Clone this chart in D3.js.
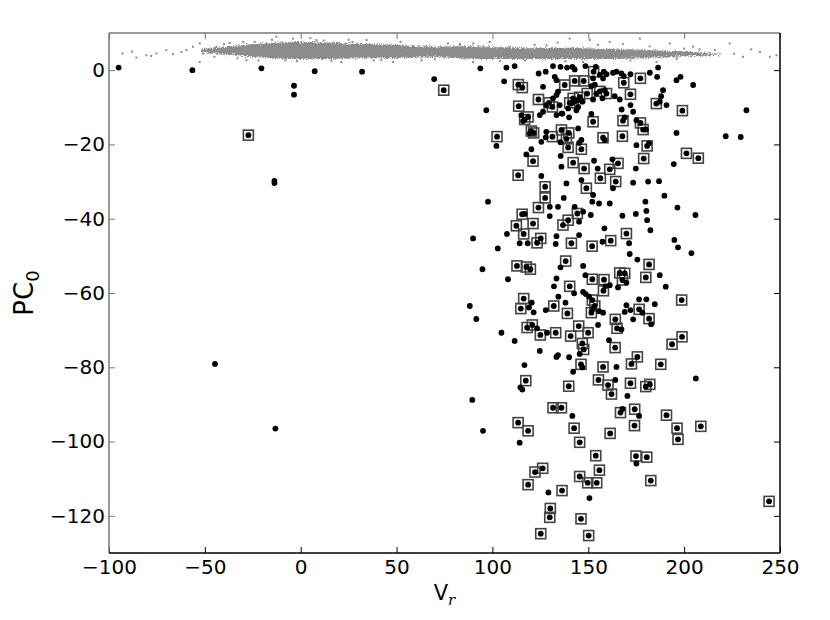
<!DOCTYPE html>
<html>
<head>
<meta charset="utf-8">
<script src="https://cdn.jsdelivr.net/npm/d3@7"></script>
<style>
body { margin: 0; background: #fff; }
text { font-family: "DejaVu Sans", sans-serif; }
</style>
</head>
<body>
<div id="chart"></div>
<script>
var width = 830,
    height = 620;

var margin = {top: 33, right: 50, bottom: 67, left: 109};

var xTicks = [-100, -50, 0, 50, 100, 150, 200, 250];
var yTicks = [0, -20, -40, -60, -80, -100, -120];

// dense gray band near PC0 ~ 5 (lower / upper edge per V_r bin)
var bandX    = [-52, -40, -30, -20, -10, 0, 10, 20, 30, 40, 50, 60, 70, 80, 90, 100, 110, 120, 130, 140, 150, 160, 170, 180, 190, 200, 210, 220];
var bandLow  = [4.8, 4.3, 3.8, 3.4, 3.1, 3.0, 3.0, 3.1, 3.2, 3.2, 3.3, 3.4, 3.5, 3.3, 3.1, 3.0, 3.0, 3.0, 3.0, 3.0, 3.0, 3.0, 3.1, 3.3, 3.5, 3.7, 3.9, 4.2];
var bandHigh = [5.6, 6.2, 6.8, 7.2, 7.5, 7.6, 7.5, 7.3, 7.1, 7.0, 6.8, 6.5, 6.3, 6.4, 6.4, 6.2, 6.0, 5.9, 6.0, 6.0, 5.8, 5.7, 5.6, 5.4, 5.2, 5.0, 4.7, 4.4];

// sparse gray points around the band
var grayPoints = [
    [-93, 4.5], [-85.7, 3.4], [-80.5, 4.0], [-75.3, 4.5], [-70.1, 5.4], [-66.6, 4.3], [-62.2, 4.9],
    [-59.6, 5.4], [-56.2, 6.3], [-52.7, 7.2], [-51, 4.5], [-52.7, 2.2], [-44, 6.3], [-37, 7.3],
    [-28.3, 2.7], [-12.7, 9.0], [-4, 8.5], [8.2, 8.1], [21.2, 2.2], [34.3, 8.1], [48.2, 2.2],
    [58.6, 5.4], [65.6, 6.3], [76.8, 7.2], [89.9, 2.2], [98.6, 7.6], [109, 6.3], [128.2, 6.7],
    [140.3, 8.5], [150.8, 8.1], [147.3, 2.2], [161.2, 7.6], [176.9, 8.5], [185.6, 2.2], [192.5, 7.2],
    [204.7, 6.3], [213.4, 4.0], [223.8, 7.2], [230.7, 3.6], [239.5, 4.9], [244.7, 3.6], [248.2, 4.0],
    [-88, 5.0], [-78, 3.8], [-47, 5.2], [-33, 3.2], [-24, 7.6], [-8, 2.6], [12, 8.0], [27, 7.6],
    [42, 2.8], [63, 2.6], [83, 7.0], [117, 2.6], [134, 7.4], [168, 7.0], [196, 3.0], [208, 5.6],
    [-45, 3.6], [-40, 7.0], [-30, 7.6], [-22, 2.6], [-15, 8.2], [-2, 2.4], [5, 8.6], [16, 2.5],
    [25, 8.2], [38, 2.6], [52, 7.6], [70, 2.9], [90, 7.2], [104, 2.5], [122, 6.8], [138, 2.4],
    [155, 6.8], [172, 2.6], [182, 6.4], [200, 5.8], [216, 5.4], [226, 4.4], [235, 5.6]
];

// plain black points [V_r, PC0]
var plainPoints = [
    [-95.0, 0.7], [-56.5, 0], [-20.5, 0.5], [7.3, -0.3], [32, -0.4], [69.6, -2.4], [-3.5, -4.2], [-3.5, -6.6],
    [-13.7, -29.8], [-13.7, -30.4], [-44.7, -79.1], [-13.2, -96.5], [232.5, -10.8], [221.7, -17.8], [229.5, -18.0],
    [93.7, 0.5], [107.3, 0.7], [111.6, 1.1], [124.1, -0.9], [127.8, -0.4], [131.6, 1.1], [135.5, 0.9], [138.9, 0.7],
    [141.7, 0.9], [142.9, 0.2], [148.5, 1.1], [153.9, 0.9], [158.1, -0.4], [159.5, -1.1], [162.9, -0.7], [164.7, -0.4],
    [167.3, -0.9], [168.5, -1.6], [172.0, -1.1], [182.1, -0.7], [186.4, 0.7], [185.9, -1.8], [196.0, -2.7], [198.1, -1.8],
    [204.7, -4.0], [106.1, -3.0], [126.4, -4.5], [132.5, -1.8], [133.4, -2.7], [152.5, -2.2], [151.6, -4.3], [158.6, -5.4],
    [163.8, -7.0], [154.2, -6.3], [143.8, -8.1], [145.5, -7.9], [142.1, -8.5], [141.2, -9.0], [134.2, -5.8], [133.4, -6.7],
    [131.6, -7.6], [188.0, -7.0], [189.0, -5.4], [128.1, -9.4], [135.1, -9.4], [136.0, -11.7], [139.5, -10.3], [143.8, -10.8],
    [144.7, -9.9], [152.5, -7.9], [157.4, -7.6], [166.4, -7.9], [172.0, -9.4], [167.4, -10.6], [173.4, -11.2], [187.3, -8.5],
    [190.8, -9.4], [96.8, -10.8], [115.1, -12.1], [116.0, -13.7], [124.7, -12.1], [126.4, -11.2], [133.4, -12.1], [136.5, -11.7],
    [140.0, -12.7], [151.6, -11.8], [169.0, -12.7], [175.1, -13.5], [180.0, -16.0], [196.0, -16.9], [102.1, -20.4], [119.5, -17.0],
    [128.1, -16.6], [127.8, -18.1], [135.5, -19.4], [145.2, -19.6], [146.4, -18.8], [144.7, -15.7], [158.6, -18.8], [175.1, -20.2],
    [181.7, -19.7], [120.3, -21.3], [117.7, -22.7], [125.5, -19.3], [135.6, -23.1], [136.0, -26.0], [153.0, -24.4], [154.9, -26.5],
    [162.6, -24.0], [174.8, -26.5], [194.6, -25.3], [125.5, -28.5], [138.6, -30.5], [146.4, -29.6], [152.5, -33.6], [152.1, -35.4],
    [155.6, -35.9], [161.2, -35.9], [162.9, -31.8], [173.4, -30.3], [181.2, -30.0], [186.9, -29.9], [189.7, -33.8], [196.5, -37.0],
    [97.7, -35.4], [137.2, -34.4], [129.9, -36.8], [134.2, -36.8], [142.9, -36.8], [179.8, -35.4], [180.3, -37.9], [116.8, -38.7],
    [129.9, -39.3], [147.3, -38.1], [151.3, -39.0], [145.2, -40.8], [167.8, -39.2], [174.8, -38.7], [180.7, -40.4], [205.9, -39.0],
    [107.6, -44.1], [133.4, -44.7], [89.9, -45.3], [145.2, -44.4], [158.4, -42.6], [157.4, -46.2], [182.4, -43.1], [114.2, -46.6],
    [118.4, -46.6], [133.0, -46.8], [194.9, -45.7], [196.8, -47.7], [102.8, -48.0], [203.8, -49.3], [171.3, -46.6],
    [156.0, -1.3], [157.7, -2.2], [153.4, -3.9], [146.9, -8.5],
    [171.6, -49.5], [175.6, -51.0], [94.8, -53.6], [135.5, -53.1], [147.3, -52.7], [187.3, -55.2], [169.9, -57.2], [148.5, -55.2],
    [158.9, -58.2], [161.2, -57.9], [165.5, -58.5], [133.4, -56.1], [108.1, -56.3], [132.1, -58.2], [142.6, -60.1], [147.3, -59.7],
    [148.7, -60.3], [150.4, -61.0], [190.4, -58.3], [134.4, -61.0], [120.5, -62.6], [119.1, -63.9], [121.5, -65.2], [138.1, -62.6],
    [127.8, -64.6], [152.5, -64.2], [155.6, -64.9], [157.7, -65.3], [169.9, -63.3], [176.5, -61.7], [180.3, -61.7], [184.7, -63.0],
    [169.0, -65.1], [172.0, -64.6], [178.2, -65.3], [173.4, -67.1], [182.8, -68.4], [91.6, -67.0], [88.2, -63.5], [123.3, -69.5],
    [128.5, -70.7], [104.7, -70.7], [111.6, -72.9], [155.1, -68.6], [167.3, -69.8], [160.8, -72.7], [124.7, -75.6], [133.4, -77.2],
    [134.2, -76.7], [140.0, -77.3], [145.5, -76.4], [146.9, -80.0], [164.7, -79.9], [116.7, -79.4], [142.1, -81.2], [114.6, -85.4],
    [115.6, -86.0], [164.1, -83.4], [170.4, -87.7], [206.1, -83.0], [89.5, -88.8], [141.7, -93.1], [167.8, -91.2], [176.5, -93.1],
    [95.1, -97.1], [114.2, -100.3], [175.1, -105.9], [129.2, -113.7], [150.6, -115.2]
];

// black points drawn with a square frame round them
var boxedPoints = [
    [-27.3, -17.5], [74.6, -5.4], [244.3, -116.1],
    [152.8, -0.4], [177.2, -2.2], [113.5, -3.9], [115.6, -4.7], [137.7, -4.0], [142.9, -2.9], [147.6, -2.9], [159.5, -6.3],
    [168.5, -3.4], [172.0, -6.5], [149.4, -6.3], [124.0, -7.9], [129.5, -8.8], [131.3, -9.9], [185.5, -9.0], [199.1, -10.9],
    [113.7, -9.7], [116.8, -13.3], [118.6, -12.6], [152.5, -13.9], [168.1, -13.6], [177.2, -14.2], [178.6, -16.0], [102.4, -17.9],
    [120.3, -16.4], [121.5, -16.9], [131.3, -17.9], [136.0, -16.1], [139.8, -16.9], [138.6, -18.5], [139.5, -20.8], [146.4, -21.3],
    [157.7, -18.2], [167.8, -17.8], [180.7, -20.4], [178.9, -23.8], [121.2, -24.5], [201.2, -22.4], [207.4, -23.7], [142.1, -24.9],
    [147.8, -26.5], [161.2, -26.7], [165.5, -25.1], [113.4, -28.3], [127.5, -31.4], [127.5, -34.4], [149.0, -31.8], [156.3, -29.1],
    [164.3, -30.0], [124.0, -37.0], [115.5, -38.8], [112.5, -41.9], [121.2, -41.3], [139.5, -40.4], [136.8, -41.7], [144.3, -38.6],
    [116.3, -44.1], [123.3, -46.5], [125.2, -45.3], [141.2, -46.6], [152.0, -47.4], [161.7, -45.9], [169.9, -44.0], [156.0, -5.7],
    [142.1, -7.6], [145.5, -7.3], [140.3, -8.8],
    [181.7, -52.3], [112.8, -52.7], [117.7, -53.0], [119.8, -53.6], [138.2, -51.4], [180.0, -55.8], [166.4, -54.6], [169.0, -54.7],
    [167.8, -56.5], [152.1, -56.3], [158.2, -56.4], [157.9, -59.4], [140.3, -58.2], [198.7, -61.9], [152.1, -61.9], [116.3, -61.5],
    [114.8, -64.2], [132.0, -63.5], [139.1, -65.5], [153.4, -63.5], [151.6, -65.3], [176.5, -64.4], [181.7, -66.9], [118.1, -69.3],
    [120.8, -68.6], [125.0, -71.3], [133.0, -70.7], [140.8, -71.6], [145.0, -68.9], [149.9, -70.7], [164.1, -67.1], [165.0, -69.5],
    [164.0, -74.7], [146.9, -73.6], [147.6, -75.2], [146.2, -79.2], [175.6, -77.2], [172.5, -79.1], [193.7, -73.8], [198.9, -71.8],
    [187.8, -79.2], [157.7, -79.9], [117.4, -83.6], [155.3, -83.4], [160.3, -84.8], [162.1, -87.2], [172.0, -84.3], [180.0, -85.2],
    [182.1, -84.6], [139.8, -85.1], [131.6, -90.9], [136.0, -90.9], [166.8, -92.2], [174.2, -91.3], [190.8, -92.9],
    [113.4, -94.9], [118.6, -97.1], [142.6, -96.4], [161.4, -97.8], [174.1, -95.7], [196.3, -96.4], [196.8, -99.4], [208.7, -95.9],
    [145.5, -100.2], [153.9, -103.8], [174.9, -103.9], [180.5, -104.2], [126.2, -107.2], [122.2, -108.2], [155.8, -107.7], [145.5, -109.4],
    [149.7, -111.1], [154.4, -111.1], [182.6, -110.5], [118.6, -111.6], [136.3, -113.2], [130.2, -118.0], [129.9, -120.4], [146.2, -120.8],
    [125.2, -124.8], [150.2, -125.3]
];

var svg = d3.select('#chart').append('svg')
    .attr('width', width)
    .attr('height', height);

// rough edge for the dense band
var filt = svg.append('defs').append('filter')
    .attr('id', 'fuzz')
    .attr('x', '-5%').attr('y', '-100%')
    .attr('width', '110%').attr('height', '300%');
filt.append('feTurbulence')
    .attr('type', 'fractalNoise')
    .attr('baseFrequency', '0.9')
    .attr('numOctaves', 2)
    .attr('seed', 3)
    .attr('result', 'noise');
filt.append('feDisplacementMap')
    .attr('in', 'SourceGraphic')
    .attr('in2', 'noise')
    .attr('scale', 6)
    .attr('xChannelSelector', 'R')
    .attr('yChannelSelector', 'G');

var x = d3.scaleLinear()
    .domain([-100, 250])
    .range([margin.left, width - margin.right]);

var y = d3.scaleLinear()
    .domain([-130, 10])
    .range([height - margin.bottom, margin.top]);

var plot = svg.append('g');

// gray band
var band = bandX.map(function(d, i) { return {v: d, lo: bandLow[i], hi: bandHigh[i]}; });

plot.append('path')
    .datum(band)
    .attr('fill', '#8c8c8c')
    .attr('filter', 'url(#fuzz)')
    .attr('d', d3.area()
        .x(function(d) { return x(d.v); })
        .y0(function(d) { return y(d.lo); })
        .y1(function(d) { return y(d.hi); })
        .curve(d3.curveMonotoneX));

plot.selectAll('.gray')
    .data(grayPoints)
    .enter().append('rect')
    .attr('class', 'gray')
    .attr('x', function(d) { return x(d[0]) - 1; })
    .attr('y', function(d) { return y(d[1]) - 1; })
    .attr('width', 2)
    .attr('height', 2)
    .attr('fill', '#8c8c8c');

// square frames
plot.selectAll('.box')
    .data(boxedPoints)
    .enter().append('rect')
    .attr('class', 'box')
    .attr('x', function(d) { return x(d[0]) - 5; })
    .attr('y', function(d) { return y(d[1]) - 5; })
    .attr('width', 10)
    .attr('height', 10)
    .attr('fill', 'none')
    .attr('stroke', '#444')
    .attr('stroke-width', 1.6);

// black dots
plot.selectAll('.dot')
    .data(plainPoints.concat(boxedPoints))
    .enter().append('circle')
    .attr('class', 'dot')
    .attr('cx', function(d) { return x(d[0]); })
    .attr('cy', function(d) { return y(d[1]); })
    .attr('r', 2.9)
    .attr('fill', '#000');

// axes, ticks pointing inward
var x0 = margin.left, x1 = width - margin.right,
    y0 = margin.top, y1 = height - margin.bottom;

var fmt = function(d) { return d < 0 ? '\u2212' + Math.abs(d) : d; };

svg.append('g')
    .attr('transform', 'translate(0,' + y1 + ')')
    .call(d3.axisBottom(x).tickValues(xTicks).tickSize(-6).tickSizeOuter(0).tickPadding(7).tickFormat(fmt))
    .call(function(g) { g.select('.domain').remove(); })
    .attr('font-size', '20px')
    .attr('font-family', 'DejaVu Sans, sans-serif');

svg.append('g')
    .attr('transform', 'translate(0,' + y0 + ')')
    .call(d3.axisTop(x).tickValues(xTicks).tickSize(-6).tickSizeOuter(0).tickFormat(''))
    .call(function(g) { g.select('.domain').remove(); g.selectAll('line').attr('stroke', '#777'); });

svg.append('g')
    .attr('transform', 'translate(' + x0 + ',0)')
    .call(d3.axisLeft(y).tickValues(yTicks).tickSize(-6).tickSizeOuter(0).tickPadding(4).tickFormat(fmt))
    .call(function(g) { g.select('.domain').remove(); g.selectAll('line').attr('stroke', '#777'); })
    .attr('font-size', '20px')
    .attr('font-family', 'DejaVu Sans, sans-serif');

svg.append('g')
    .attr('transform', 'translate(' + x1 + ',0)')
    .call(d3.axisRight(y).tickValues(yTicks).tickSize(-6).tickSizeOuter(0).tickFormat(''))
    .call(function(g) { g.select('.domain').remove(); });

// frame
svg.append('line').attr('x1', x0).attr('x2', x1).attr('y1', y0).attr('y2', y0).attr('stroke', '#777').attr('stroke-width', 1.5);
svg.append('line').attr('x1', x0).attr('x2', x0).attr('y1', y0).attr('y2', y1).attr('stroke', '#777').attr('stroke-width', 1.5);
svg.append('line').attr('x1', x0).attr('x2', x1).attr('y1', y1).attr('y2', y1).attr('stroke', '#000').attr('stroke-width', 1.5);
svg.append('line').attr('x1', x1).attr('x2', x1).attr('y1', y0).attr('y2', y1).attr('stroke', '#000').attr('stroke-width', 1.5);

// axis labels
var xl = svg.append('text')
    .attr('x', (x0 + x1) / 2)
    .attr('y', 600)
    .attr('text-anchor', 'middle')
    .attr('font-size', '21px');
xl.append('tspan').text('V');
xl.append('tspan').attr('font-style', 'italic').attr('font-family', 'DejaVu Serif, serif')
    .attr('font-size', '15px').attr('dy', 5).text('r');

var yl = svg.append('text')
    .attr('transform', 'translate(33,' + (y0 + y1) / 2 + ') rotate(-90)')
    .attr('text-anchor', 'middle')
    .attr('font-size', '26px');
yl.append('tspan').text('PC');
yl.append('tspan').attr('font-size', '18px').attr('dy', 6).text('0');
</script>
</body>
</html>
